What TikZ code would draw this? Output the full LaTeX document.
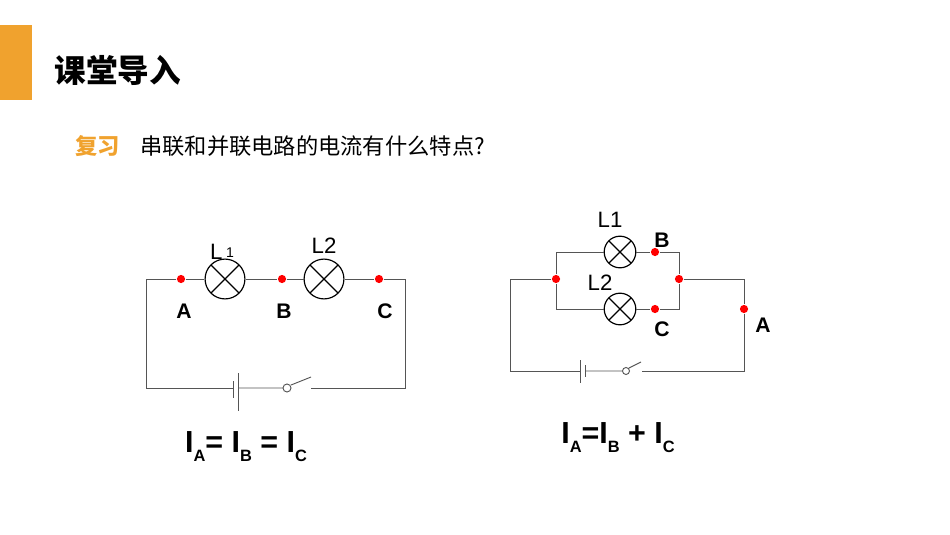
\documentclass[tikz,border=0pt]{standalone}
\usepackage{fontspec}
\setmainfont{Liberation Sans}
\newfontfamily\cjk{Noto Sans CJK SC}
\definecolor{orng}{HTML}{F0A22E}
\definecolor{wire}{HTML}{555555}
\newcommand{\lsub}[1]{\raisebox{-0.55ex}{\fontsize{14}{14}\selectfont #1}}
\tikzset{
  lamp/.style={circle,draw,line width=1pt,minimum size=#1,inner sep=0pt,
    path picture={\draw[line width=1pt] (path picture bounding box.south west)--(path picture bounding box.north east)
      (path picture bounding box.north west)--(path picture bounding box.south east);}},
  dot/.style={circle,fill=red,inner sep=0pt,minimum size=7pt},
  lbl/.style={font=\fontsize{19}{19}\selectfont},
  plbl/.style={font=\bfseries\fontsize{18}{18}\selectfont},
  eqn/.style={font=\bfseries\fontsize{26}{26}\selectfont}
}
\begin{document}
\begin{tikzpicture}[x=0.03cm,y=-0.03cm,line width=0.8pt]
        \useasboundingbox (0,0) rectangle (950,535);
        \fill[orng] (0,25) rectangle (32,100);
        \node (title) [anchor=west,font=\cjk\bfseries\fontsize{27}{27}\selectfont] at (50,70) {课堂导入};
        \node (rev) [anchor=west,text=orng,font=\cjk\bfseries\fontsize{19}{19}\selectfont] at (71,146) {复习};
        \node (q) [anchor=west,font=\cjk\fontsize{19}{19}\selectfont] at (136,146) {串联和并联电路的电流有什么特点?};

        % series circuit
        \path   (225,279) node (l1) [lamp=34pt] {}
                (324,279) node (l2) [lamp=34pt] {}
                (181,279) node (pa) [dot] {}
                (282,279) node (pb) [dot] {}
                (379,279) node (pc) [dot] {};
        \draw[wire] (pa) -- (l1) -- (pb) -- (l2) -- (pc) -- (405,279) -- (405,388) -- (311,388);
        \draw[wire] (pa) -- (146,279) -- (146,388) -- (233,388);
        \draw[wire] (233,381) -- (233,398) (238,373) -- (238,411);
        \draw[wire] (238,388) -- (283,388) (287,388) circle (4) (291,385) -- (311,377);
        \node[lbl] at (222,252) {L\,\raisebox{0.2ex}{\fontsize{12}{12}\selectfont 1}};
        \node[lbl] at (324,246) {L2};
        \node[plbl] at (184,311) {A};
        \node[plbl] at (284,311) {B};
        \node[plbl] at (385,311) {C};
        \node[eqn] at (246,447) {I\lsub{A}= I\lsub{B} = I\lsub{C}};

        % parallel circuit
        \path   (620,252) node (m1) [lamp=27pt] {}
                (620,309) node (m2) [lamp=27pt] {}
                (556,279) node (pl) [dot] {}
                (679,279) node (pr) [dot] {}
                (655,252) node (qb) [dot] {}
                (655,309) node (qc) [dot] {}
                (744,309) node (qa) [dot] {};
        \draw[wire] (pl) -- (556,252) -- (m1) -- (qb) -- (679,252) -- (pr) -- (679,309) -- (qc) -- (m2) -- (556,309) -- (pl);
        \draw[wire] (pr) -- (744,279) -- (qa) -- (744,371) -- (642,371);
        \draw[wire] (pl) -- (510,279) -- (510,371) -- (580,371);
        \draw[wire] (580,360) -- (580,383) (585,365) -- (585,377);
        \draw[wire] (585,371) -- (622,371) (626,371) circle (3.5) (629,368) -- (641,362);
        \node[lbl] at (610,220) {L1};
        \node[lbl] at (600,283) {L2};
        \node[plbl] at (662,240) {B};
        \node[plbl] at (662,329) {C};
        \node[plbl] at (763,325) {A};
        \node[eqn] at (618,438) {I\lsub{A}=I\lsub{B} + I\lsub{C}};
\end{tikzpicture}
\end{document}
